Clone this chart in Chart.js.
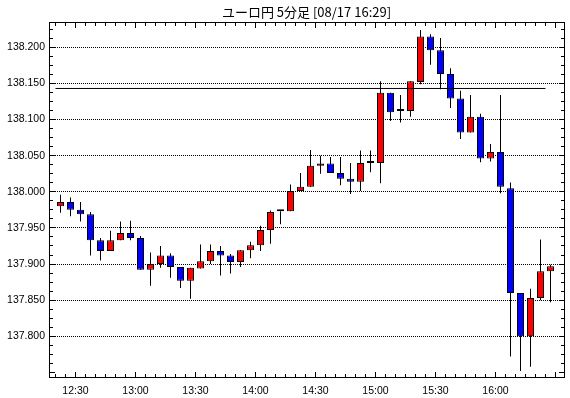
<!DOCTYPE html>
<html>
<head>
<meta charset="utf-8">
<script src="https://cdn.jsdelivr.net/npm/chart.js@4.4.1/dist/chart.umd.min.js"></script>
<style>
  html, body { margin: 0; padding: 0; background: #fff; }
  canvas { display: block; }
</style>
</head>
<body>
<canvas id="chart" width="570" height="398"></canvas>
<script>
// 5 minute bars, EUR/JPY
const times = ['12:20','12:25','12:30','12:35','12:40','12:45','12:50','12:55',
               '13:00','13:05','13:10','13:15','13:20','13:25','13:30','13:35','13:40','13:45','13:50','13:55',
               '14:00','14:05','14:10','14:15','14:20','14:25','14:30','14:35','14:40','14:45','14:50','14:55',
               '15:00','15:05','15:10','15:15','15:20','15:25','15:30','15:35','15:40','15:45','15:50','15:55',
               '16:00','16:05','16:10','16:15','16:20','16:25'];
const opens  = [137.980,137.986,137.975,137.969,137.933,137.918,137.933,137.943,
                137.936,137.892,137.900,137.912,137.896,137.877,137.894,137.904,137.918,137.912,137.903,137.919,
                137.926,137.947,137.973,137.973,138.001,138.007,138.036,138.039,138.026,138.018,138.014,138.040,
                138.040,138.137,138.112,138.112,138.152,138.215,138.196,138.163,138.129,138.082,138.104,138.046,
                138.055,138.005,137.860,137.800,137.853,137.890];
const highs  = [137.996,137.992,137.986,137.972,137.936,137.946,137.959,137.960,
                137.939,137.916,137.925,137.915,137.896,137.895,137.927,137.927,137.925,137.914,137.919,137.931,
                137.953,137.974,137.973,138.010,138.026,138.058,138.050,138.048,138.048,138.040,138.057,138.057,
                138.153,138.137,138.134,138.153,138.224,138.218,138.213,138.171,138.140,138.134,138.108,138.066,
                138.134,138.013,137.860,137.866,137.934,137.899];
const lows   = [137.971,137.966,137.959,137.912,137.905,137.918,137.933,137.933,
                137.892,137.870,137.895,137.881,137.867,137.852,137.894,137.900,137.884,137.887,137.896,137.908,
                137.918,137.928,137.955,137.973,138.001,138.007,138.025,138.026,138.009,137.997,138.001,138.027,
                138.012,138.098,138.096,138.104,138.149,138.176,138.142,138.116,138.073,138.082,138.041,138.042,
                137.998,137.772,137.752,137.758,137.850,137.847];
const closes = [137.986,137.975,137.969,137.933,137.918,137.933,137.943,137.936,
                137.892,137.900,137.912,137.896,137.877,137.895,137.904,137.918,137.912,137.903,137.919,137.926,
                137.947,137.972,137.973,138.001,138.007,138.036,138.039,138.026,138.018,138.014,138.040,138.040,
                138.137,138.110,138.112,138.153,138.215,138.196,138.163,138.129,138.082,138.104,138.046,138.055,
                138.007,137.860,137.800,137.853,137.890,137.897];

// reference price line
const refLineTimes = ['12:20', '16:25'];
const refLinePrice = 138.143;

const xTickLabels = ['12:30','13:00','13:30','14:00','14:30','15:00','15:30','16:00'];
const yTicks = [137.800, 137.850, 137.900, 137.950, 138.000, 138.050, 138.100, 138.150, 138.200];

// minutes after 12:00
function toMin(t) {
    const [h, m] = t.split(':').map(Number);
    return (h - 12) * 60 + m;
}

const bodyData = times.map((t, i) => ({ x: toMin(t) + 2.5, y: [opens[i], closes[i]] }));
const wickData = times.map((t, i) => ({ x: toMin(t) + 2.5, y: [lows[i], highs[i]] }));
const refData = refLineTimes.map(t => ({ x: toMin(t), y: refLinePrice }));

function candleColor(ctx) {
    const i = ctx.dataIndex;
    if (closes[i] > opens[i]) return '#ff0000';
    if (closes[i] < opens[i]) return '#0000ff';
    return '#000000';
}

// frame + small inward tick marks on all four sides
const frameTicks = {
    id: 'frameTicks',
    afterDatasetsDraw(chart) {
        const { ctx, chartArea: a, scales: { x, y } } = chart;
        ctx.save();
        ctx.fillStyle = '#000';
        for (let m = Math.ceil(x.min / 5) * 5; m <= x.max; m += 5) {
            const px = Math.round(x.getPixelForValue(m) - 0.5);
            const len = m % 30 === 0 ? 5 : 3;
            ctx.fillRect(px, a.top + 1, 1, len);
            ctx.fillRect(px, a.bottom - len, 1, len);
        }
        for (let k = -8; k <= 40; k++) {
            const v = yTicks[0] + k * 0.0125;
            if (v < y.min || v > y.max) continue;
            const py = Math.round(y.getPixelForValue(v) - 0.5);
            const len = k % 4 === 0 ? 5 : 3;
            ctx.fillRect(a.left + 1, py, len, 1);
            ctx.fillRect(a.right - len, py, len, 1);
        }
        ctx.strokeStyle = '#000';
        ctx.lineWidth = 1;
        ctx.strokeRect(a.left + 0.5, a.top + 0.5, a.right - a.left, a.bottom - a.top);
        ctx.restore();
    }
};

const tickFont = { family: "'Liberation Sans', Arial, sans-serif", size: 10.5 };

new Chart(document.getElementById('chart'), {
    type: 'bar',
    data: {
        datasets: [{
            type: 'line',
            data: refData,
            borderColor: '#000',
            borderWidth: 1,
            pointRadius: 0,
            order: 0
        }, {
            data: bodyData,
            backgroundColor: candleColor,
            borderColor: '#000',
            borderWidth: 1,
            borderSkipped: false,
            grouped: false,
            maxBarThickness: 7,
            minBarLength: 2,
            order: 1
        }, {
            data: wickData,
            backgroundColor: '#000',
            borderWidth: 0,
            grouped: false,
            maxBarThickness: 1,
            order: 2
        }]
    },
    options: {
        responsive: false,
        animation: false,
        devicePixelRatio: 1,
        layout: { padding: { left: 0, right: 6, top: 0, bottom: 0 } },
        plugins: {
            legend: { display: false },
            tooltip: { enabled: false },
            title: {
                display: true,
                text: 'ユーロ円 5分足 [08/17 16:29]',
                fullSize: false,
                color: '#000',
                font: { family: "'Noto Sans CJK JP', sans-serif", size: 13, weight: 'normal' },
                padding: { top: 4, bottom: 2.4 }
            }
        },
        scales: {
            x: {
                type: 'linear',
                min: 16.75,
                max: 274.25,
                offset: false,
                afterBuildTicks: s => { s.ticks = xTickLabels.map(t => ({ value: toMin(t) })); },
                afterFit: s => { s.height = 21; },
                grid: { display: false },
                border: { display: false },
                ticks: {
                    padding: 0,
                    color: '#000',
                    font: tickFont,
                    maxRotation: 0,
                    autoSkip: false,
                    callback: (v, i) => xTickLabels[i]
                }
            },
            y: {
                min: 137.7437,
                max: 138.2350,
                beginAtZero: false,
                afterBuildTicks: s => { s.ticks = yTicks.map(v => ({ value: v })); },
                afterFit: s => { s.width = 49; },
                grid: { color: '#000', lineWidth: 1, drawTicks: false },
                border: { display: false, dash: [1, 1] },
                ticks: {
                    padding: 4,
                    color: '#000',
                    font: tickFont,
                    autoSkip: false,
                    callback: v => Number(v).toFixed(3)
                }
            }
        }
    },
    plugins: [frameTicks]
});
</script>
</body>
</html>
